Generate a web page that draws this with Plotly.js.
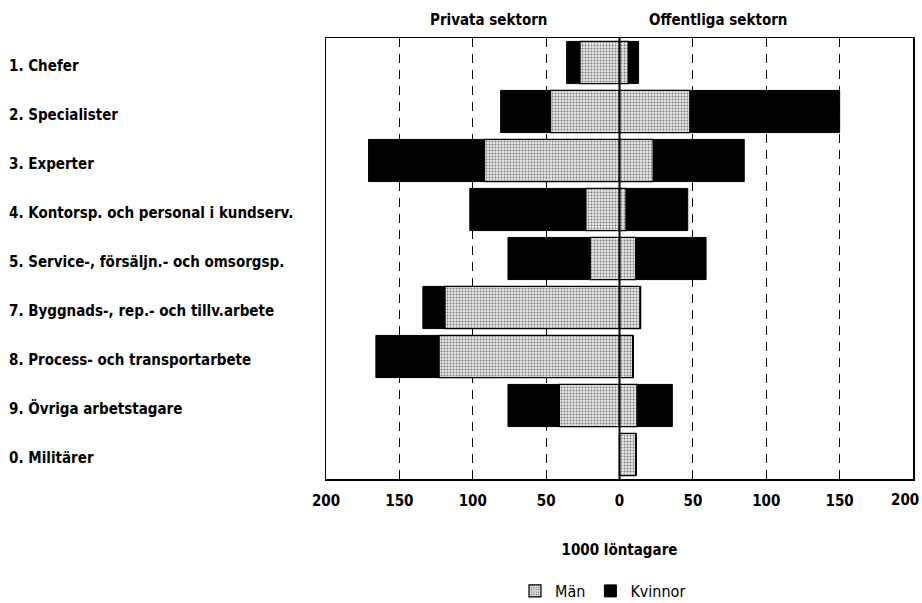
<!DOCTYPE html>
<html>
<head>
<meta charset="utf-8">
<script src="https://cdn.plot.ly/plotly-3.0.1.min.js"></script>
<style>html,body{margin:0;padding:0;background:#fff;}#chart{width:922px;height:603px;}</style>
</head>
<body>
<div id="chart"></div>
<script>
const categories = [
  "1. Chefer",
  "2. Specialister",
  "3. Experter",
  "4. Kontorsp. och personal i kundserv.",
  "5. Service-, försäljn.- och omsorgsp.",
  "7. Byggnads-, rep.- och tillv.arbete",
  "8. Process- och transportarbete",
  "9. Övriga arbetstagare",
  "0. Militärer"
];
// 1000 löntagare
const privMen   = [27, 47, 92, 23, 20, 119, 123, 41, 0];
const privWomen = [9, 34, 79, 79, 56, 15, 43, 35, 0];
const pubMen    = [6, 48, 23, 4.5, 11, 14, 9, 12, 11];
const pubWomen  = [7, 102, 62, 42, 48, 0.5, 0.5, 24, 0.5];
const tickVals  = [-200, -150, -100, -50, 0, 50, 100, 150, 200];
const tickText  = ["200", "150", "100", "50", "0", "50", "100", "150", "200"];

const FONT = "'Liberation Sans Narrow', 'DejaVu Sans Condensed', 'Roboto', sans-serif";
const TICKFONT = {family: FONT, size: 15, color: "#000", weight: 700};
const menMarker = {
  color: "#d9d9d9",
  line: {color: "#000", width: 1.2},
  pattern: {shape: ".", fgcolor: "#7a7a7a", bgcolor: "#e6e6e6", size: 3, solidity: 0.3}
};
const womenMarker = {color: "#000", line: {color: "#000", width: 1}};
const W = 0.86;

const traces = [
  {type: "bar", orientation: "h", name: "Män", legendgroup: "m", showlegend: true,
   y: categories, x: privMen.map(v => -v), marker: menMarker, width: W, hoverinfo: "skip"},
  {type: "bar", orientation: "h", name: "Kvinnor", legendgroup: "k", showlegend: true,
   y: categories, x: privWomen.map(v => -v), marker: womenMarker, width: W, hoverinfo: "skip"},
  {type: "bar", orientation: "h", name: "Män", legendgroup: "m", showlegend: false,
   y: categories, x: pubMen, marker: menMarker, width: W, hoverinfo: "skip"},
  {type: "bar", orientation: "h", name: "Kvinnor", legendgroup: "k", showlegend: false,
   y: categories, x: pubWomen, marker: womenMarker, width: W, hoverinfo: "skip"}
];

const annotations = categories.map(c => ({
  text: c, xref: "paper", yref: "y", x: -0.543, y: c, yshift: -3, xanchor: "left", yanchor: "middle",
  showarrow: false, font: {family: FONT, size: 15, color: "#000", weight: 600}
}));
annotations.push(
  {text: "Privata sektorn", xref: "paper", yref: "paper", x: (488 - 326) / 587, y: 1, yshift: 18,
   xanchor: "center", yanchor: "middle", showarrow: false, font: {family: FONT, size: 15, color: "#000", weight: 600}},
  {text: "Offentliga sektorn", xref: "paper", yref: "paper", x: (718 - 326) / 587, y: 1, yshift: 18,
   xanchor: "center", yanchor: "middle", showarrow: false, font: {family: FONT, size: 15, color: "#000", weight: 600}},
  // last tick label drawn right-aligned so it stays inside the page edge
  {text: tickText[tickText.length - 1], xref: "paper", yref: "paper", x: 1, xshift: 8, y: 0, yshift: -21,
   xanchor: "right", yanchor: "middle", showarrow: false, font: TICKFONT}
);

const layout = {
  width: 922, height: 603,
  margin: {l: 326, r: 9, t: 38, b: 124, autoexpand: false},
  paper_bgcolor: "#fff", plot_bgcolor: "#fff",
  barmode: "relative",
  font: {family: FONT, color: "#000"},
  showlegend: true,
  legend: {orientation: "h", xref: "container", yref: "container",
           x: 603 / 922, xanchor: "center", y: (603 - 591) / 603, yanchor: "middle",
           font: {family: FONT, size: 16, color: "#000"}, tracegroupgap: 0},
  xaxis: {
    range: [-200, 200], tickvals: tickVals, ticktext: tickText.map((t, i) => i === tickText.length - 1 ? "" : t),
    showgrid: true, gridcolor: "#000", gridwidth: 1, griddash: "9px,7px",
    zeroline: false, showline: true, linecolor: "#000", linewidth: 1.5, mirror: true,
    ticks: "inside", ticklen: 5, tickcolor: "#000",
    ticklabeloverflow: "allow", ticklabelstandoff: 7,
    tickfont: TICKFONT,
    title: {text: "1000 löntagare", font: {family: FONT, size: 15, color: "#000", weight: 600}, standoff: 36},
    automargin: false, fixedrange: true
  },
  yaxis: {
    type: "category", categoryorder: "array", categoryarray: categories,
    range: [8.5, -0.5], showticklabels: false, ticks: "",
    showgrid: false, zeroline: false, showline: true, linecolor: "#000", linewidth: 1.5, mirror: true,
    automargin: false, fixedrange: true
  },
  shapes: [
    {type: "line", xref: "x", yref: "paper", x0: 0, x1: 0, y0: 0, y1: 1, layer: "above",
     line: {color: "#000", width: 2}}
  ],
  annotations: annotations
};

Plotly.newPlot("chart", traces, layout, {staticPlot: true, displayModeBar: false});
</script>
</body>
</html>
